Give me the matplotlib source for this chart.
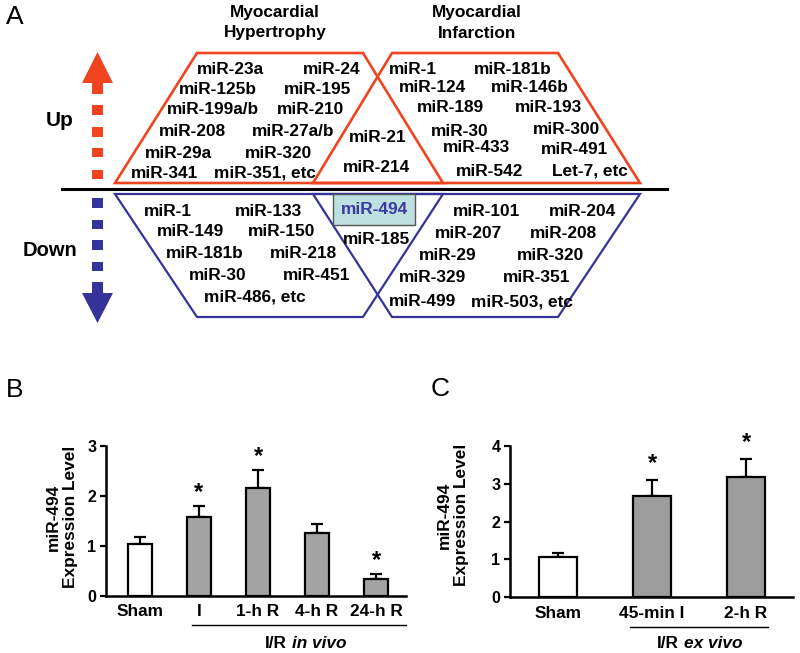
import matplotlib
matplotlib.use("Agg")
import matplotlib.pyplot as plt
from matplotlib.patches import Polygon, Rectangle

plt.rcParams['font.family'] = ['Liberation Sans', 'DejaVu Sans']
plt.rcParams['font.weight'] = 'bold'

RED = '#f04420'
BLUE = '#333399'

# ---- panel A: miRNA lists (text, x, y in pixels)
up_hyper = [('miR-23a', 230, 69), ('miR-24', 332, 69), ('miR-125b', 218, 90), ('miR-195', 318, 90),
            ('miR-199a/b', 213, 110), ('miR-210', 310, 110), ('miR-208', 192, 132), ('miR-27a/b', 293, 132),
            ('miR-29a', 178, 153), ('miR-320', 278, 153), ('miR-341', 165, 173), ('miR-351, etc', 265, 173)]
up_both = [('miR-21', 378, 137), ('miR-214', 376, 167)]
up_infarct = [('miR-1', 413, 69), ('miR-181b', 513, 69), ('miR-124', 433, 88), ('miR-146b', 530, 88),
              ('miR-189', 450, 108), ('miR-193', 548, 108), ('miR-30', 460, 131), ('miR-300', 567, 129),
              ('miR-433', 477, 148), ('miR-491', 575, 150), ('miR-542', 490, 171), ('Let-7, etc', 590, 171)]
down_hyper = [('miR-1', 168, 212), ('miR-133', 268, 212), ('miR-149', 190, 232), ('miR-150', 282, 232),
              ('miR-181b', 205, 253), ('miR-218', 303, 253), ('miR-30', 218, 276), ('miR-451', 317, 276),
              ('miR-486, etc', 255, 297)]
down_both = [('miR-185', 377, 240)]
down_infarct = [('miR-101', 487, 212), ('miR-204', 582, 212), ('miR-207', 468, 233), ('miR-208', 563, 233),
                ('miR-29', 448, 256), ('miR-320', 550, 256), ('miR-329', 433, 278), ('miR-351', 537, 278),
                ('miR-499', 423, 302), ('miR-503, etc', 522, 302)]

# shapes (pixels)
shape_up_hyper = [(115, 183), (197, 53), (363, 53), (443, 183)]
shape_up_inf = [(313, 183), (392, 53), (558, 53), (640, 183)]
shape_dn_hyper = [(115, 194), (443, 194), (363, 317), (197, 317)]
shape_dn_inf = [(313, 194), (640, 194), (558, 317), (392, 317)]
up_squares = [(105, 115), (127, 137), (148, 157), (170, 179), (83, 94)]
dn_squares = [(198, 208), (220, 229), (240, 250), (262, 271), (282, 293)]

# ---- panel B
b_groups = ['Sham', 'I', '1-h R', '4-h R', '24-h R']
b_means = [1.05, 1.59, 2.17, 1.27, 0.35]
b_err = [0.14, 0.22, 0.36, 0.17, 0.10]
b_sig = [False, True, True, False, True]

# ---- panel C
c_groups = ['Sham', '45-min I', '2-h R']
c_means = [1.06, 2.68, 3.19]
c_err = [0.10, 0.41, 0.46]
c_sig = [False, True, True]

fig = plt.figure(figsize=(8, 6.53), dpi=100)

# overlay axes in pixel coordinates
ov = fig.add_axes([0, 0, 1, 1])
ov.set_xlim(0, 800)
ov.set_ylim(653, 0)
ov.axis('off')

fs = 12.4
ov.text(275, 12, 'Myocardial', ha='center', va='center', fontsize=fs)
ov.text(275, 33, 'Hypertrophy', ha='center', va='center', fontsize=fs)
ov.text(477, 12, 'Myocardial', ha='center', va='center', fontsize=fs)
ov.text(477, 33, 'Infarction', ha='center', va='center', fontsize=fs)

for pts in [shape_up_hyper, shape_up_inf]:
    ov.add_patch(Polygon(pts, closed=True, fill=False, ec=RED, lw=1.9, joinstyle='miter'))
for pts in [shape_dn_hyper, shape_dn_inf]:
    ov.add_patch(Polygon(pts, closed=True, fill=False, ec=BLUE, lw=1.6, joinstyle='miter'))
ov.plot([62, 667], [188.5, 188.5], color='black', lw=2.2)

for lst in [up_hyper, up_both, up_infarct, down_hyper, down_both, down_infarct]:
    for s, x, y in lst:
        ov.text(x, y, s, ha='center', va='center', fontsize=fs)

# highlighted miR-494
ov.add_patch(Rectangle((333, 194), 82, 31, fc='#bfe0e0', ec='#555555', lw=1.0, zorder=3))
ov.text(374, 210, 'miR-494', ha='center', va='center', fontsize=fs, color='#3a3aa0', zorder=4)

# arrows
for y0, y1 in up_squares:
    ov.add_patch(Rectangle((92, y0), 11, y1 - y0, fc=RED, ec='none'))
ov.add_patch(Polygon([(82, 83), (113, 83), (97.5, 52)], closed=True, fc=RED, ec='none'))
for y0, y1 in dn_squares:
    ov.add_patch(Rectangle((92, y0), 11, y1 - y0, fc=BLUE, ec='none'))
ov.add_patch(Polygon([(82, 293), (113, 293), (97.5, 323)], closed=True, fc=BLUE, ec='none'))
ov.text(60, 120, 'Up', ha='center', va='center', fontsize=15)
ov.text(50, 251, 'Down', ha='center', va='center', fontsize=14.5)

# panel letters
ov.text(15, 17, 'A', ha='center', va='center', fontsize=19, fontweight='normal')
ov.text(15, 390, 'B', ha='center', va='center', fontsize=19, fontweight='normal')
ov.text(440, 389, 'C', ha='center', va='center', fontsize=19, fontweight='normal')

# y labels
ov.text(62, 517, 'miR-494\nExpression Level', rotation=90, ha='center', va='center',
        fontsize=fs, linespacing=1.15, multialignment='center')
ov.text(453, 515, 'miR-494\nExpression Level', rotation=90, ha='center', va='center',
        fontsize=fs, linespacing=1.15, multialignment='center')

# group underlines and captions
ov.plot([192, 406], [625, 625], color='black', lw=1.0)
ov.text(287, 643, 'I/R', ha='right', va='center', fontsize=fs)
ov.text(292, 643, 'in vivo', ha='left', va='center', fontsize=fs, style='italic')
ov.plot([630, 768], [627, 627], color='black', lw=1.0)
ov.text(679, 643, 'I/R', ha='right', va='center', fontsize=fs)
ov.text(684, 643, 'ex vivo', ha='left', va='center', fontsize=fs, style='italic')


def bar_panel(ax, groups, means, errs, sig, gray, width, xlim, ylim, ticks, star_off):
    x = list(range(len(groups)))
    colors = ['white'] + [gray] * (len(groups) - 1)
    ax.bar(x, means, width=width, color=colors, edgecolor='black', linewidth=1.6, zorder=2)
    ax.errorbar(x, means, yerr=[[0] * len(errs), errs], fmt='none', ecolor='black',
                elinewidth=1.6, capsize=4.5, capthick=1.6, zorder=1)
    for xi, m, e, s in zip(x, means, errs, sig):
        if s:
            ax.annotate('*', (xi, m + e), xytext=(0, star_off), textcoords='offset points',
                        ha='center', va='bottom', fontsize=17)
    ax.set_xlim(*xlim)
    ax.set_ylim(*ylim)
    ax.set_yticks(ticks)
    ax.set_xticks(x)
    ax.set_xticklabels(groups, fontsize=fs)
    ax.tick_params(axis='x', length=0, pad=6)
    ax.tick_params(axis='y', length=4, width=1.6, pad=3, labelsize=11.5)
    for sp in ['top', 'right']:
        ax.spines[sp].set_visible(False)
    for sp in ['left', 'bottom']:
        ax.spines[sp].set_linewidth(1.8)
    ax.patch.set_alpha(0)


axb = fig.add_axes([106 / 800, 1 - 596 / 653, 300 / 800, 150 / 653])
bar_panel(axb, b_groups, b_means, b_err, b_sig, '#a3a3a3', 0.42,
          ((106 - 140) / 59, (406 - 140) / 59), (0, 3), [0, 1, 2, 3], 1)

axc = fig.add_axes([510 / 800, 1 - 597.3 / 653, 283 / 800, 151.3 / 653])
bar_panel(axc, c_groups, c_means, c_err, c_sig, '#9c9c9c', 0.40,
          ((510 - 558) / 94, (793 - 558) / 94), (0, 4), [0, 1, 2, 3, 4], 4)

fig.savefig('out.png', dpi=100)
